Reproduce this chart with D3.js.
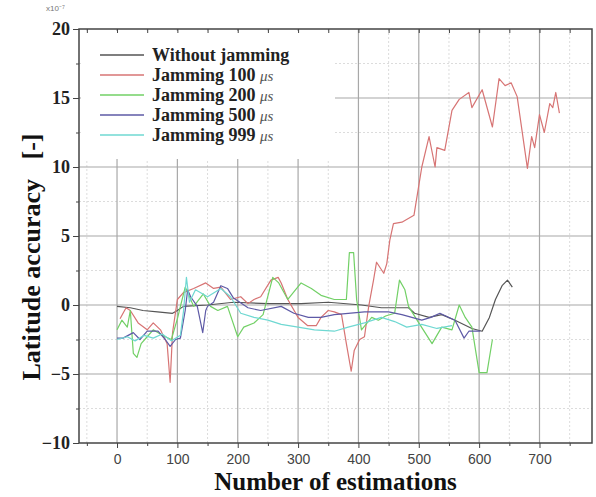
<!DOCTYPE html>
<html>
<head>
<meta charset="utf-8">
<script src="https://cdn.jsdelivr.net/npm/d3@7.9.0/dist/d3.min.js"></script>
<style>
  body { margin: 0; background: #fff; }
  svg { display: block; }
</style>
</head>
<body>
<div id="chart"></div>
<script>
// Series: [estimation number, latitude accuracy (x1e-7)]
const withoutJamming = [[0,-0.1],[22,-0.2],[43,-0.4],[67,-0.5],[92,-0.6],[100,-0.4],[110,-0.1],[150,0],[193,0.2],[250,0.1],[305,0.1],[350,0.2],[405,0],[438,-0.2],[483,-0.2],[493,-0.6],[517,-0.9],[538,-0.7],[560,-1.1],[588,-1.7],[605,-1.9],[617,-0.9],[627,0.4],[638,1.4],[647,1.8],[655,1.3]];
const jamming100 = [[5,-1.0],[15,-0.2],[22,-0.4],[35,-1.3],[50,-1.8],[60,-1.3],[72,-1.8],[83,-2.8],[88,-5.6],[92,-2.0],[100,0.4],[110,0.9],[127,1.2],[147,1.6],[160,1.2],[172,1.3],[188,0.4],[205,0.6],[217,0.1],[227,0.4],[238,0.6],[255,1.8],[267,2.0],[272,1.6],[283,0.4],[300,-0.9],[316,-1.5],[330,-1.5],[338,-0.9],[350,-0.4],[360,-0.5],[372,-0.7],[380,-2.8],[388,-4.8],[393,-3.3],[402,-2.5],[410,-2.3],[417,-0.1],[425,1.8],[430,3.1],[442,2.3],[447,3.0],[452,4.7],[458,5.9],[472,6.0],[492,6.5],[505,10],[517,12.2],[527,10],[530,11.4],[543,11.2],[555,14.1],[567,14.9],[583,15.4],[588,14.3],[605,15.6],[622,12.9],[633,16.4],[643,15.9],[653,16.1],[663,15.1],[680,9.9],[687,12.2],[692,11.4],[700,13.8],[708,12.5],[717,14.6],[722,14.3],[727,15.4],[733,13.9]];
const jamming200 = [[0,-1.8],[8,-1.1],[17,-1.6],[22,-0.4],[27,-3.5],[33,-3.8],[40,-2.8],[50,-2.3],[60,-1.8],[75,-2.2],[90,-2.5],[100,-1.0],[105,-0.1],[113,1.3],[127,-0.1],[143,0.8],[155,-0.1],[167,-0.4],[183,-0.1],[200,-2.3],[210,-1.6],[227,-1.3],[242,-0.7],[258,2.0],[268,1.6],[283,0.4],[305,1.6],[322,1.2],[338,0.7],[360,0.4],[380,0.4],[385,3.8],[392,3.8],[397,0.4],[405,-1.8],[422,-0.9],[433,-1.1],[445,-0.8],[460,-0.6],[468,1.8],[477,1.1],[483,-0.1],[500,-1.3],[522,-2.8],[538,-1.6],[555,-1.8],[567,0],[577,-0.9],[588,-1.6],[600,-4.9],[613,-4.9],[622,-2.5]];
const jamming500 = [[0,-2.4],[10,-2.4],[27,-2.0],[38,-2.5],[50,-1.9],[68,-1.9],[80,-2.5],[88,-3.0],[97,-2.5],[105,-2.4],[113,-0.4],[117,1.1],[122,0.6],[133,-0.1],[142,-2.0],[147,-0.4],[150,-0.1],[160,0.2],[172,1.4],[183,1.2],[193,0.5],[217,-0.2],[238,-0.4],[272,-0.1],[293,-0.6],[317,-0.9],[338,-0.9],[360,-0.7],[383,-0.6],[410,-0.5],[450,-0.5],[472,-0.7],[505,-1.1],[520,-0.9],[535,-0.6],[560,-1.1],[575,-2.4],[583,-1.9],[602,-1.9]];
const jamming999 = [[0,-2.5],[17,-2.3],[30,-2.6],[45,-2.2],[60,-2.4],[75,-2.1],[90,-2.6],[105,-2.2],[110,-0.5],[115,2.0],[120,0.2],[130,1.1],[150,0.6],[172,1.2],[188,0.6],[205,-0.6],[227,-0.9],[250,-1.1],[272,-1.4],[300,-1.6],[327,-1.8],[360,-1.9],[383,-1.6],[410,-1.3],[438,-0.9],[460,-1.2],[480,-1.6],[505,-1.4],[530,-1.7],[555,-1.5]];

const seriesNames = ['Without jamming', 'Jamming 100', 'Jamming 200', 'Jamming 500', 'Jamming 999'];
const seriesData = [withoutJamming, jamming100, jamming200, jamming500, jamming999];
const seriesColors = ['#555555', '#d77474', '#72d066', '#5e5aa6', '#6fd8d2'];
const xTicks = [0, 100, 200, 300, 400, 500, 600, 700];
const yTicks = [-10, -5, 0, 5, 10, 15, 20];

const width = 596, height = 497;
const margin = { top: 29, right: 4, bottom: 54, left: 79 };

const svg = d3.select('#chart').append('svg')
  .attr('width', width)
  .attr('height', height);

const x = d3.scaleLinear().domain([-63, 787]).range([margin.left, width - margin.right]);
const y = d3.scaleLinear().domain([-10, 20]).range([height - margin.bottom, margin.top]);

const serif = '"Liberation Serif", "Times New Roman", serif';
const sans = '"Liberation Sans", Arial, sans-serif';

// minor grid (dotted, faint)
const minorX = d3.range(-50, 787, 50).filter(d => d % 100 !== 0);
const minorY = d3.range(-7.5, 20, 5);
svg.append('g').selectAll('line').data(minorX).join('line')
  .attr('x1', d => x(d)).attr('x2', d => x(d))
  .attr('y1', y(-10)).attr('y2', y(20))
  .attr('stroke', '#dcdcdc').attr('stroke-dasharray', '2,2');
svg.append('g').selectAll('line').data(minorY).join('line')
  .attr('x1', x.range()[0]).attr('x2', x.range()[1])
  .attr('y1', d => y(d)).attr('y2', d => y(d))
  .attr('stroke', '#dcdcdc').attr('stroke-dasharray', '2,2');

// major grid
svg.append('g').selectAll('line').data(xTicks).join('line')
  .attr('x1', d => x(d)).attr('x2', d => x(d))
  .attr('y1', y(-10)).attr('y2', y(20))
  .attr('stroke', '#a8a8a8').attr('stroke-width', 1.2);
svg.append('g').selectAll('line').data(yTicks.slice(1, -1)).join('line')
  .attr('x1', x.range()[0]).attr('x2', x.range()[1])
  .attr('y1', d => y(d)).attr('y2', d => y(d))
  .attr('stroke', '#a8a8a8').attr('stroke-width', 1.2);

// lines
const line = d3.line().x(d => x(d[0])).y(d => y(d[1]));
svg.append('g').selectAll('path').data(seriesData).join('path')
  .attr('d', line)
  .attr('fill', 'none')
  .attr('stroke', (d, i) => seriesColors[i])
  .attr('stroke-width', 1.2)
  .attr('stroke-linejoin', 'round');

// legend box hides the grid behind it
svg.append('rect')
  .attr('x', x.range()[0] + 2).attr('y', margin.top + 2)
  .attr('width', 254).attr('height', 128)
  .attr('fill', '#fff');

const legend = svg.append('g').attr('transform', 'translate(100,55)');
seriesNames.forEach((name, i) => {
  const row = legend.append('g').attr('transform', `translate(0,${i * 20})`);
  row.append('line')
    .attr('x1', 0).attr('x2', 44)
    .attr('stroke', seriesColors[i]).attr('stroke-width', 1.5);
  const t = row.append('text')
    .attr('x', 52).attr('y', 6)
    .attr('font-family', serif).attr('font-weight', 'bold')
    .attr('font-size', 18).attr('fill', '#222')
    .text(name);
  if (i > 0) {
    t.append('tspan').text(' ');
    t.append('tspan').attr('font-style', 'italic').attr('font-weight', 'normal')
      .attr('font-size', 15).attr('fill', '#555').text('μs');
  }
});

// frame
svg.append('rect')
  .attr('x', x.range()[0]).attr('y', y(20))
  .attr('width', x.range()[1] - x.range()[0])
  .attr('height', y(-10) - y(20))
  .attr('fill', 'none').attr('stroke', '#444').attr('stroke-width', 1.5);

// axes
const xAxis = d3.axisBottom(x).tickValues(xTicks).tickSize(5).tickSizeOuter(0);
const gx = svg.append('g').attr('transform', `translate(0,${y(-10)})`).call(xAxis);
gx.select('.domain').remove();
gx.selectAll('line').attr('stroke', '#444');
gx.selectAll('text').attr('font-family', sans).attr('font-size', 14).attr('fill', '#444').attr('dy', '0.95em');

svg.append('g').attr('transform', `translate(0,${y(-10)})`)
  .call(d3.axisBottom(x).tickValues(minorX).tickSize(3).tickFormat(''))
  .call(g => g.select('.domain').remove())
  .selectAll('line').attr('stroke', '#444');
svg.append('g').attr('transform', `translate(0,${y(20)})`)
  .call(d3.axisBottom(x).tickValues(d3.range(-50, 787, 50)).tickSize(4).tickFormat(''))
  .call(g => g.select('.domain').remove())
  .selectAll('line').attr('stroke', '#444');

const yAxis = d3.axisLeft(y).tickValues(yTicks).tickSize(6).tickSizeOuter(0);
const gy = svg.append('g').attr('transform', `translate(${x.range()[0]},0)`).call(yAxis);
gy.select('.domain').remove();
gy.selectAll('line').attr('stroke', '#444');
gy.selectAll('text').attr('font-family', serif).attr('font-weight', 'bold')
  .attr('font-size', 18).attr('fill', '#222').attr('x', -9);
svg.append('g').attr('transform', `translate(${x.range()[0]},0)`)
  .call(d3.axisLeft(y).tickValues(minorY).tickSize(3).tickFormat(''))
  .call(g => g.select('.domain').remove())
  .selectAll('line').attr('stroke', '#444');

// exponent label
svg.append('text')
  .attr('x', 46).attr('y', 11)
  .attr('font-family', sans).attr('font-size', 8).attr('fill', '#777')
  .text('x10⁻⁷');

// axis titles
svg.append('text')
  .attr('x', (x.range()[0] + x.range()[1]) / 2 + 0).attr('y', 490)
  .attr('text-anchor', 'middle')
  .attr('font-family', serif).attr('font-weight', 'bold').attr('font-size', 25)
  .attr('fill', '#111')
  .text('Number of estimations');

svg.append('text')
  .attr('transform', 'translate(40,257) rotate(-90)')
  .attr('text-anchor', 'middle')
  .attr('font-family', serif).attr('font-weight', 'bold').attr('font-size', 26)
  .attr('fill', '#111')
  .style('white-space', 'pre')
  .text('Latitude accuracy   [-]');
</script>
</body>
</html>
